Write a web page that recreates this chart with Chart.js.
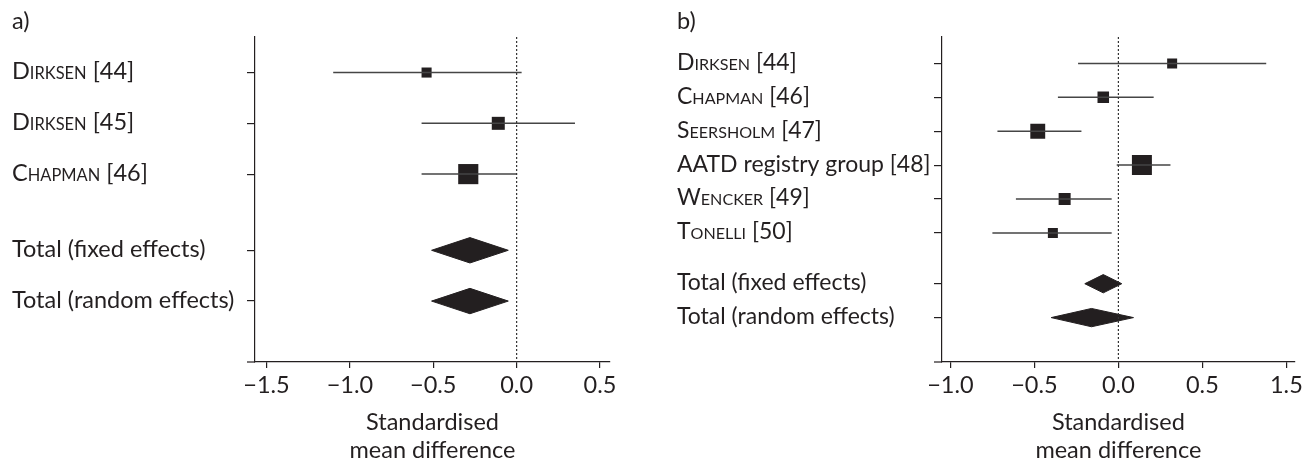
<!DOCTYPE html>
<html>
<head>
<meta charset="utf-8">
<script src="https://cdn.jsdelivr.net/npm/chart.js@4.4.0/dist/chart.umd.min.js"></script>
<style>
  body { margin: 0; background: #fff; }
  #wrap { position: relative; width: 1306px; height: 458px; }
  #chartA { position: absolute; left: 0; top: 0; }
  #chartB { position: absolute; left: 640px; top: 0; }
</style>
</head>
<body>
<div id="wrap">
  <canvas id="chartA" width="640" height="458"></canvas>
  <canvas id="chartB" width="666" height="458"></canvas>
</div>
<script>
// Panel a)
const studiesA = ['Dirksen [44]', 'Dirksen [45]', 'Chapman [46]'];
const smallCapsA = [true, true, true];
const estA = [-0.54, -0.11, -0.29];
const lowA = [-1.10, -0.57, -0.57];
const highA = [0.03, 0.35, 0.0];
const weightA = [15, 25, 60];
const totalEstA = [-0.28, -0.28];
const totalLowA = [-0.51, -0.51];
const totalHighA = [-0.05, -0.05];
const xTicksA = [-1.5, -1.0, -0.5, 0.0, 0.5];
const xTickLabelsA = ['\u22121.5', '\u22121.0', '\u22120.5', '0.0', '0.5'];

// Panel b)
const studiesB = ['Dirksen [44]', 'Chapman [46]', 'Seersholm [47]', 'AATD registry group [48]', 'Wencker [49]', 'Tonelli [50]'];
const smallCapsB = [true, true, true, false, true, true];
const estB = [0.32, -0.09, -0.48, 0.14, -0.32, -0.39];
const lowB = [-0.24, -0.36, -0.72, -0.01, -0.61, -0.75];
const highB = [0.88, 0.21, -0.22, 0.31, -0.04, -0.04];
const weightB = [9, 12, 20, 36, 13, 9];
const totalEstB = [-0.09, -0.16];
const totalLowB = [-0.20, -0.40];
const totalHighB = [0.02, 0.09];
const xTicksB = [-1.0, -0.5, 0.0, 0.5, 1.0];
const xTickLabelsB = ['\u22121.0', '\u22120.5', '0.0', '0.5', '1.5'];

const totalLabels = ['Total (fixed effects)', 'Total (random effects)'];
const axisTitle = ['Standardised', 'mean difference'];

const ink = '#231f20';
const FONT = 'Lato';
const FS = 23.5;   // main text size

// draws row labels (with small caps), the panel tag and the little x-axis stub
const rowLabels = {
  id: 'rowLabels',
  afterDraw(chart, args, o) {
    const ctx = chart.ctx;
    const ys = chart.scales.y;
    const area = chart.chartArea;
    const big = o.size + 'px ' + FONT;
    const small = (o.size * 0.7) + 'px ' + FONT;
    ctx.save();
    ctx.fillStyle = ink;
    ctx.textAlign = 'left';
    ctx.textBaseline = 'alphabetic';
    o.items.forEach(it => {
      const py = ys.getPixelForValue(it.row) + 6.5;
      let x = o.left;
      if (it.caps) {
        const sp = it.text.indexOf(' ');
        const name = it.text.slice(0, sp);
        const rest = it.text.slice(sp);
        ctx.font = big;
        ctx.fillText(name[0], x, py);
        x += ctx.measureText(name[0]).width;
        ctx.font = small;
        const sc = name.slice(1).toUpperCase();
        ctx.fillText(sc, x, py);
        x += ctx.measureText(sc).width;
        ctx.font = big;
        ctx.fillText(rest, x, py);
      } else {
        ctx.font = big;
        ctx.fillText(it.text, x, py);
      }
    });
    ctx.font = FS + 'px ' + FONT;
    ctx.fillText(o.tag, o.left, 29);
    // x axis line runs a bit past the y axis
    ctx.strokeStyle = ink;
    ctx.lineWidth = 1.2;
    ctx.beginPath();
    ctx.moveTo(area.left - 8, area.bottom);
    ctx.lineTo(area.left, area.bottom);
    ctx.stroke();
    ctx.restore();
  }
};

function makeForest(id, cfg) {
  const n = cfg.studies.length;
  const studyRows = cfg.studies.map((s, i) => i + 1);
  const totalRows = totalLabels.map((s, j) => n + 1.5 + j);
  const rows = studyRows.concat(totalRows);

  const datasets = [];
  // line of no effect
  datasets.push({
    data: [{x: 0, y: cfg.yMin}, {x: 0, y: cfg.yMax}],
    borderColor: '#333', borderWidth: 1.2, borderDash: [2, 2], pointRadius: 0
  });
  // confidence intervals
  cfg.studies.forEach((s, i) => {
    datasets.push({
      data: [{x: cfg.low[i], y: studyRows[i]}, {x: cfg.high[i], y: studyRows[i]}],
      borderColor: '#454545', borderWidth: 1.5, pointRadius: 0
    });
  });
  // weighted squares
  datasets.push({
    data: cfg.est.map((v, i) => ({x: v, y: studyRows[i]})),
    showLine: false,
    pointStyle: 'rect',
    pointRadius: cfg.weight.map(w => cfg.k * Math.sqrt(w) / Math.SQRT2),
    backgroundColor: ink, borderColor: ink, borderWidth: 0
  });
  // pooled diamonds
  totalLabels.forEach((s, j) => {
    const r = totalRows[j];
    datasets.push({
      data: [
        {x: cfg.tLow[j], y: r}, {x: cfg.tEst[j], y: r - cfg.dh},
        {x: cfg.tHigh[j], y: r}, {x: cfg.tEst[j], y: r + cfg.dh},
        {x: cfg.tLow[j], y: r}
      ],
      fill: 'shape', backgroundColor: ink, borderColor: ink,
      borderWidth: 1, pointRadius: 0, tension: 0
    });
  });

  const items = cfg.studies.map((s, i) => ({text: s, caps: cfg.caps[i], row: studyRows[i]}))
    .concat(totalLabels.map((s, j) => ({text: s, caps: false, row: totalRows[j]})));

  return new Chart(document.getElementById(id).getContext('2d'), {
    type: 'line',
    data: {datasets: datasets},
    plugins: [rowLabels],
    options: {
      responsive: false,
      animation: false,
      layout: {padding: {top: 37, left: 0, right: cfg.padRight, bottom: 0}},
      plugins: {
        legend: {display: false},
        tooltip: {enabled: false},
        rowLabels: {items: items, left: cfg.labelLeft, tag: cfg.tag, size: cfg.labelSize}
      },
      scales: {
        x: {
          type: 'linear', min: cfg.xMin, max: cfg.xMax,
          afterBuildTicks: s => { s.ticks = cfg.xTicks.map(v => ({value: v})); },
          ticks: {
            callback: v => cfg.xTickLabels[cfg.xTicks.indexOf(v)],
            font: {family: FONT, size: FS}, color: ink, padding: 3,
            maxRotation: 0, autoSkip: false
          },
          grid: {display: true, drawOnChartArea: false, drawTicks: true, tickLength: 6, color: ink, lineWidth: 1.2},
          border: {display: true, color: ink, width: 1.2},
          title: {
            display: true, text: axisTitle, color: ink,
            font: {family: FONT, size: FS, lineHeight: 1.2},
            padding: {top: 4, bottom: -7}
          },
          afterFit: s => { s.height = 96; }
        },
        y: {
          type: 'linear', reverse: true, min: cfg.yMin, max: cfg.yMax,
          afterBuildTicks: s => { s.ticks = rows.map(v => ({value: v})); },
          ticks: {display: false},
          grid: {display: true, drawOnChartArea: false, drawTicks: true, tickLength: 8, color: ink, lineWidth: 1.2},
          border: {display: true, color: ink, width: 1.2},
          afterFit: s => { s.width = cfg.axisLeft; }
        }
      }
    }
  });
}

function draw() {
  makeForest('chartA', {
    studies: studiesA, caps: smallCapsA, est: estA, low: lowA, high: highA, weight: weightA,
    tEst: totalEstA, tLow: totalLowA, tHigh: totalHighA,
    xTicks: xTicksA, xTickLabels: xTickLabelsA,
    xMin: -1.569, xMax: 0.56, yMin: 0.3, yMax: 6.7,
    k: 2.6, dh: 0.25, axisLeft: 255, padRight: 30, labelLeft: 12, labelSize: 23.5, tag: 'a)'
  });
  makeForest('chartB', {
    studies: studiesB, caps: smallCapsB, est: estB, low: lowB, high: highB, weight: weightB,
    tEst: totalEstB, tLow: totalLowB, tHigh: totalHighB,
    xTicks: xTicksB, xTickLabels: xTickLabelsB,
    xMin: -1.05, xMax: 1.05, yMin: 0.22, yMax: 9.81,
    k: 3.33, dh: 0.27, axisLeft: 302, padRight: 9, labelLeft: 37, labelSize: 23, tag: 'b)'
  });
}

if (document.fonts && document.fonts.load) {
  document.fonts.load(FS + 'px ' + FONT).then(draw, draw);
} else {
  draw();
}
</script>
</body>
</html>
